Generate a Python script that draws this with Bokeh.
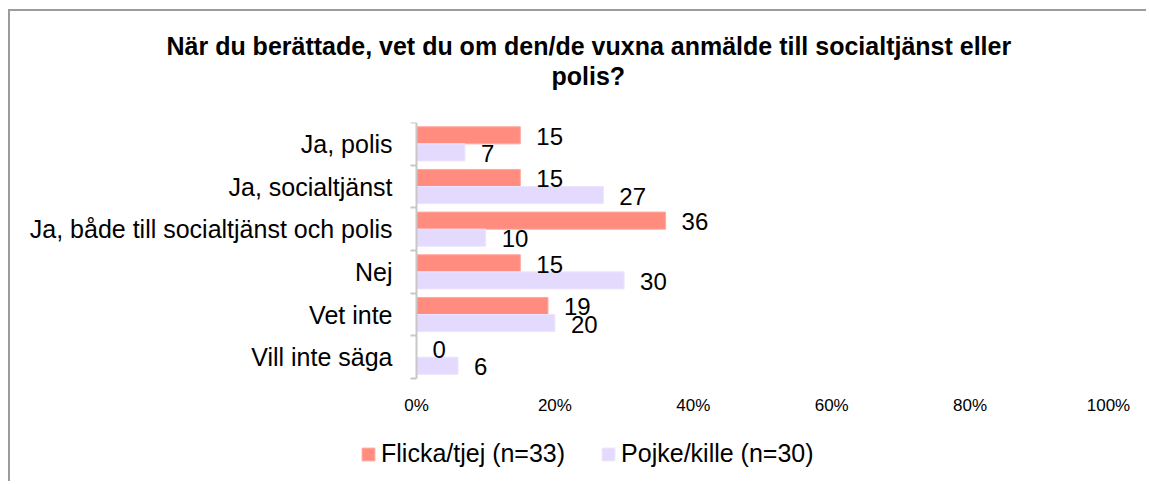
from bokeh.plotting import figure
from bokeh.models import (ColumnDataSource, LabelSet, Legend, LegendItem, FixedTicker,
                          Range1d, Title)
from bokeh.core.properties import value
from bokeh.embed import file_html
from bokeh.resources import INLINE

categories = ["Ja, polis", "Ja, socialtjänst", "Ja, både till socialtjänst och polis",
              "Nej", "Vet inte", "Vill inte säga"]
flicka = [15, 15, 36, 15, 19, 0]
pojke = [7, 27, 10, 30, 20, 6]
series_names = ["Flicka/tjej (n=33)", "Pojke/kille (n=30)"]
x_ticks = [0, 20, 40, 60, 80, 100]
x_tick_labels = ["0%", "20%", "40%", "60%", "80%", "100%"]
title_line1 = "När du berättade, vet du om den/de vuxna anmälde till socialtjänst eller"
title_line2 = "polis?"

RED = "#ff8c7f"
PURPLE = "#e4dafd"
FONT = "Liberation Sans"

n = len(categories)
# row centres, first category at top
centers = [n - i - 0.5 for i in range(n)]

src_f = ColumnDataSource(dict(y=[c + 0.2 for c in centers], v=flicka,
                              t=[str(v) for v in flicka]))
src_p = ColumnDataSource(dict(y=[c - 0.2 for c in centers], v=pojke,
                              t=[str(v) for v in pojke]))

# ---- layout (pixels) ----
W, H = 1138, 472
TOP = 111            # frame top
BOTTOM = 8           # space under frame
AX_X = 406           # pixel position of 0 %
PX_PER_PCT = 6.92    # 100 % = 692 px
ROW_PX = 256 / n     # height of one category row
frame_h = H - TOP - BOTTOM
x_lo = -AX_X / PX_PER_PCT
x_hi = (W - AX_X) / PX_PER_PCT
y_lo = n - frame_h / ROW_PX

p = figure(width=W, height=H, output_backend="svg", toolbar_location=None,
           x_range=Range1d(x_lo, x_hi), y_range=Range1d(y_lo, n),
           min_border_left=0, min_border_right=0,
           min_border_top=TOP, min_border_bottom=BOTTOM)
p.margin = (9, 0, 0, 8)
p.styles = {"border-top": "2px solid #9c9c9c", "border-left": "2px solid #9c9c9c"}
p.outline_line_color = None
p.grid.visible = False
p.background_fill_color = "white"
p.border_fill_color = "white"
p.title.text = ""

r_f = p.hbar(y="y", right="v", left=0, height=0.4, source=src_f,
             fill_color=RED, line_color="#ffa89e", line_width=1)
r_p = p.hbar(y="y", right="v", left=0, height=0.4, source=src_p,
             fill_color=PURPLE, line_color="#ece4fe", line_width=1)

for src in (src_f, src_p):
    p.add_layout(LabelSet(x="v", y="y", text="t", source=src, x_offset=16, y_offset=-1,
                          text_align="left", text_baseline="middle",
                          text_font=value(FONT), text_font_size="24px",
                          text_color="black"))

# x axis, drawn at y = 0
xa = p.xaxis[0]
xa.fixed_location = 0
xa.ticker = FixedTicker(ticks=x_ticks)
xa.major_label_overrides = {t: l for t, l in zip(x_ticks, x_tick_labels)}
xa.axis_line_color = None
xa.major_tick_line_color = None
xa.major_tick_out = 0
xa.major_tick_in = 0
xa.minor_tick_line_color = None
xa.major_label_standoff = 17
xa.major_label_text_font = FONT
xa.major_label_text_font_size = "17px"
xa.major_label_text_color = "black"

# y axis at x = 0: labels at row centres, ticks at row boundaries
ya = p.yaxis[0]
ya.fixed_location = 0
ya.bounds = (0, n)
ya.ticker = FixedTicker(ticks=centers, minor_ticks=list(range(n + 1)))
ya.major_label_overrides = {c: cat for c, cat in zip(centers, categories)}
ya.major_tick_line_color = None
ya.major_tick_out = 0
ya.major_tick_in = 0
ya.minor_tick_line_color = "#c8c8c8"
ya.minor_tick_line_width = 2
ya.minor_tick_in = 0
ya.minor_tick_out = 6
ya.axis_line_color = "#c8c8c8"
ya.axis_line_width = 2
ya.major_label_standoff = 18
ya.major_label_text_font = FONT
ya.major_label_text_font_size = "25px"
ya.major_label_text_color = "black"

# title: spacer (closest to frame), line 2, line 1
p.add_layout(Title(text=" ", text_font_size="1px", standoff=30), "above")
p.add_layout(Title(text=title_line2, align="left", offset=541, standoff=0,
                   text_font=FONT, text_font_size="25px", text_font_style="bold",
                   text_color="black"), "above")
p.add_layout(Title(text=title_line1, align="left", offset=156, standoff=0,
                   text_font=FONT, text_font_size="25px", text_font_style="bold",
                   text_color="black"), "above")

legend = Legend(items=[LegendItem(label=series_names[0], renderers=[r_f]),
                       LegendItem(label=series_names[1], renderers=[r_p])],
                orientation="horizontal", location=(350, 7),
                glyph_width=16, glyph_height=16, label_standoff=5, spacing=35,
                label_height=25, label_text_font=FONT, label_text_font_size="25px",
                label_text_color="black",
                border_line_color=None, background_fill_alpha=0,
                padding=0, margin=0)
p.add_layout(legend, "center")

open("out.html", "w").write(file_html(p, INLINE))
